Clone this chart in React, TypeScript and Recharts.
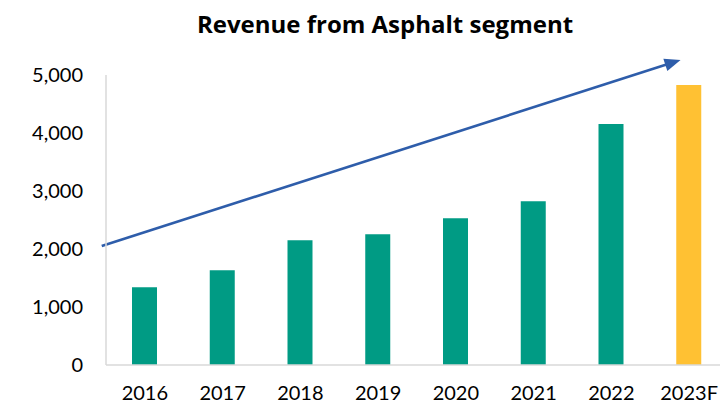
import React from 'react';
import { BarChart, Bar, XAxis, YAxis, Cell, ReferenceLine } from 'recharts';

const years = ['2016', '2017', '2018', '2019', '2020', '2021', '2022', '2023F'];
const revenue = [1340, 1633, 2150, 2253, 2529, 2822, 4155, 4828];
const isForecast = [false, false, false, false, false, false, false, true];
const yTicks = [0, 1000, 2000, 3000, 4000, 5000];
// trend arrow anchored at first and last category; extended by fractions of the category step
const trendAnchorStart = { x: '2016', y: 2291 };
const trendAnchorEnd = { x: '2023F', y: 5307 };
const trendFromStep = -0.555;
const trendToStep = 6.89;

const data = years.map((year, i) => ({ year, revenue: revenue[i], forecast: isForecast[i] }));

const FONT = 'Lato, "Open Sans", sans-serif';
const TITLE_FONT = '"Open Sans", Lato, sans-serif';

const Arrow = (props: any) => {
  const { x1: ax, y1: ay, x2: bx0, y2: by0 } = props;
  const steps = years.length - 1;
  const sx = ax + ((bx0 - ax) * trendFromStep) / steps;
  const sy = ay + ((by0 - ay) * trendFromStep) / steps;
  const ex = ax + ((bx0 - ax) * trendToStep) / steps;
  const ey = ay + ((by0 - ay) * trendToStep) / steps;
  const dx = ex - sx;
  const dy = ey - sy;
  const len = Math.sqrt(dx * dx + dy * dy) || 1;
  const ux = dx / len;
  const uy = dy / len;
  const headLen = 16;
  const headHalf = 6.5;
  const hx = ex - ux * headLen;
  const hy = ey - uy * headLen;
  const px = -uy;
  const py = ux;
  return (
    <g>
      <line x1={sx} y1={sy} x2={hx + ux * 2} y2={hy + uy * 2} stroke="#2E5DAA" strokeWidth={2.6} />
      <polygon
        points={`${ex},${ey} ${hx + px * headHalf},${hy + py * headHalf} ${hx - px * headHalf},${hy - py * headHalf}`}
        fill="#2E5DAA"
      />
    </g>
  );
};

export default function App() {
  return (
    <div style={{ position: 'fixed', left: 0, top: 0, width: 720, height: 406, overflow: 'hidden', background: '#fff' }}>
      <div
        style={{
          position: 'absolute',
          left: 0,
          top: 10,
          width: 770,
          textAlign: 'center',
          fontFamily: TITLE_FONT,
          fontWeight: 700,
          fontSize: 24,
          lineHeight: '27px',
          color: '#000',
          zIndex: 2,
        }}
      >
        Revenue from Asphalt segment
      </div>
      <BarChart
        width={740}
        height={406}
        data={data}
        margin={{ top: 75, right: 12, bottom: 0, left: 0 }}
        barCategoryGap={0}
      >
        <XAxis
          dataKey="year"
          height={41}
          tickLine={false}
          tickSize={0}
          tickMargin={21}
          axisLine={{ stroke: '#D9D9D9', strokeWidth: 1.5 }}
          tick={{ fill: '#000', fontSize: 20, fontFamily: FONT }}
          interval={0}
        />
        <YAxis
          width={106}
          domain={[0, 5000]}
          ticks={yTicks}
          tickLine={false}
          tickSize={0}
          tickMargin={23}
          axisLine={{ stroke: '#D9D9D9', strokeWidth: 1.5 }}
          tick={{ fill: '#000', fontSize: 20, fontFamily: FONT }}
          tickFormatter={(v: number) => v.toLocaleString('en-US')}
          allowDataOverflow
        />
        <Bar dataKey="revenue" barSize={25} isAnimationActive={false}>
          {data.map((d, i) => (
            <Cell key={i} fill={d.forecast ? '#FFC133' : '#009B84'} />
          ))}
        </Bar>
        <ReferenceLine
          segment={[trendAnchorStart, trendAnchorEnd]}
          ifOverflow="visible"
          shape={Arrow}
        />
      </BarChart>
    </div>
  );
}
